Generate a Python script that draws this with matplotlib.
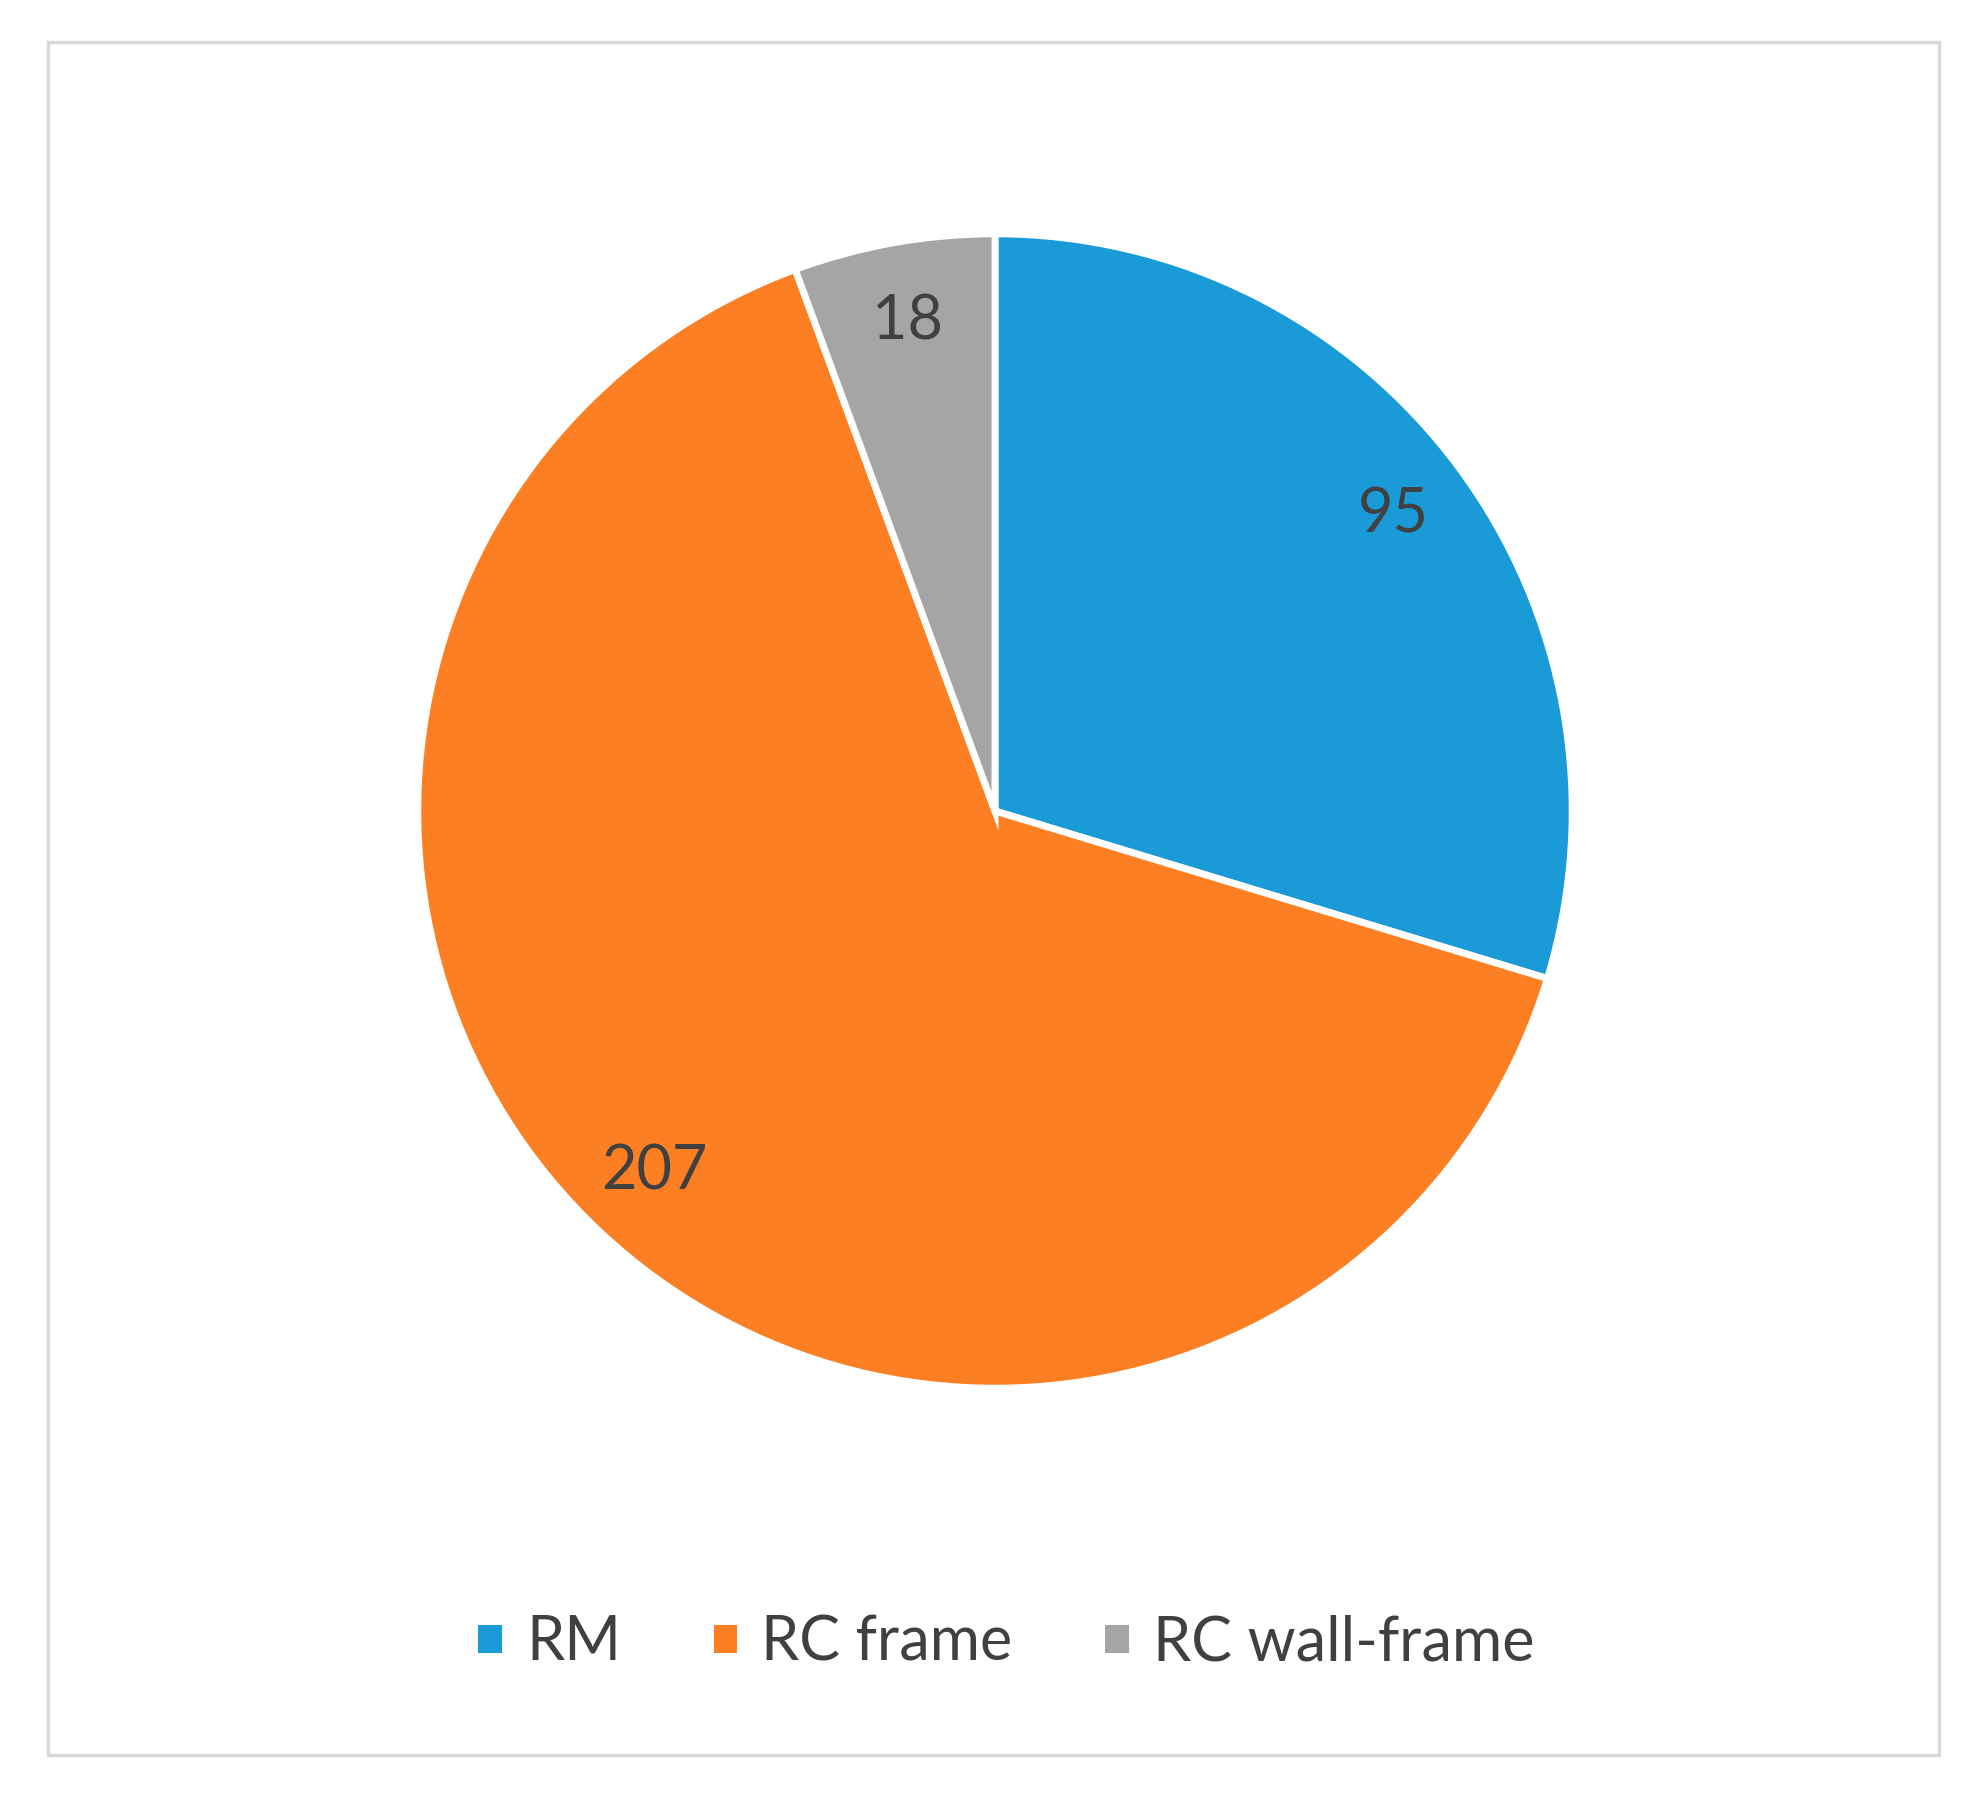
import matplotlib.pyplot as plt
from matplotlib.patches import Rectangle

categories = ["RM", "RC frame", "RC wall-frame"]
values = [95, 207, 18]
colors = ["#1a9ad6", "#fd7f23", "#a5a5a5"]

plt.rcParams['font.family'] = ['Lato', 'DejaVu Sans']

fig = plt.figure(figsize=(19.81, 18.01), dpi=100)
fig.patches.append(Rectangle((48 / 1981, 1 - 1755 / 1801), (1939 - 48) / 1981, (1755 - 42) / 1801,
                             transform=fig.transFigure, fill=False, edgecolor="#d9d9d9", linewidth=2.5))

# pie centre ~ (995, 811) px, radius ~ 583 px
r = 583
ax = fig.add_axes([(995 - r) / 1981, 1 - (811 + r) / 1801, 2 * r / 1981, 2 * r / 1801])
wedges, texts = ax.pie(values, colors=colors, startangle=90, counterclock=False,
                       labels=[str(v) for v in values], labeldistance=0.86,
                       wedgeprops=dict(edgecolor="white", linewidth=5),
                       textprops=dict(fontsize=44, color="#404040", ha="center", va="center"))
for t in texts:
    t.set_horizontalalignment("center")
ax.set_xlim(-1.01, 1.01)
ax.set_ylim(-1.01, 1.01)
ax.set_aspect("equal")

fig.legend(wedges, categories, loc="center", bbox_to_anchor=(0.507, 0.088), ncol=3,
           frameon=False, fontsize=44, handlelength=0.5, handleheight=0.5,
           columnspacing=1.45, handletextpad=0.35, labelcolor="#404040")

fig.savefig("out.png", dpi=100, facecolor="white")
